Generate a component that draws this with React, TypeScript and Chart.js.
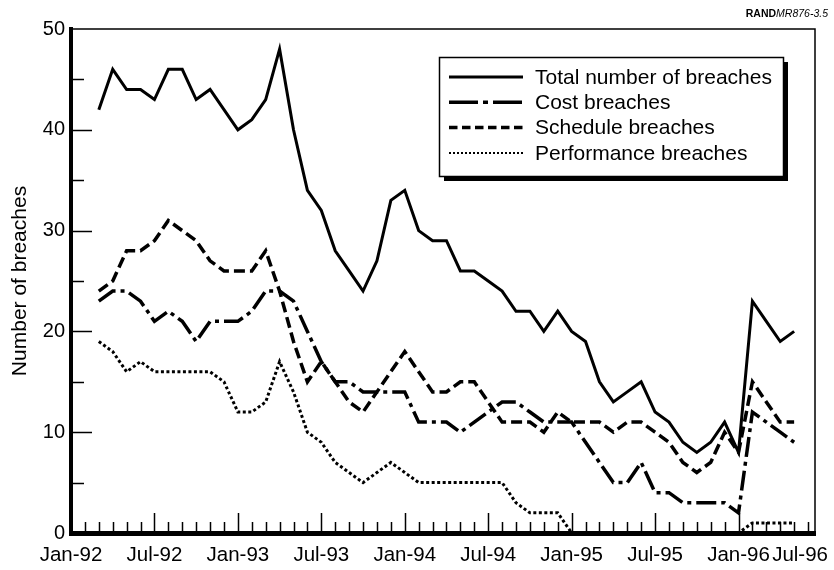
import React, { useEffect, useRef } from 'react';
import { Chart, registerables } from 'chart.js';

Chart.register(...registerables);

// Months counted from Jan-92 (= 0). First observation is Mar-92.
const START_MONTH = 2;
const tickMonths = [0, 6, 12, 18, 24, 30, 36, 42, 48, 54];
const tickLabels = ['Jan-92', 'Jul-92', 'Jan-93', 'Jul-93', 'Jan-94', 'Jul-94', 'Jan-95', 'Jul-95', 'Jan-96', 'Jul-96'];
const yTickValues = [0, 10, 20, 30, 40, 50];

const totalBreaches = [42, 46, 44, 44, 43, 46, 46, 43, 44, 42, 40, 41, 43, 48, 40, 34, 32, 28, 26, 24, 27, 33, 34, 30, 29, 29, 26, 26, 25, 24, 22, 22, 20, 22, 20, 19, 15, 13, 14, 15, 12, 11, 9, 8, 9, 11, 8, 23, 21, 19, 20];
const costBreaches = [23, 24, 24, 23, 21, 22, 21, 19, 21, 21, 21, 22, 24, 24, 23, 20, 17, 15, 15, 14, 14, 14, 14, 11, 11, 11, 10, 11, 12, 13, 13, 12, 11, 11, 11, 9, 7, 5, 5, 7, 4, 4, 3, 3, 3, 3, 2, 12, 11, 10, 9];
const scheduleBreaches = [24, 25, 28, 28, 29, 31, 30, 29, 27, 26, 26, 26, 28, 24, 19, 15, 17, 15, 13, 12, 14, 16, 18, 16, 14, 14, 15, 15, 13, 11, 11, 11, 10, 12, 11, 11, 11, 10, 11, 11, 10, 9, 7, 6, 7, 10, 8, 15, 13, 11, 11];
const performanceBreaches = [19, 18, 16, 17, 16, 16, 16, 16, 16, 15, 12, 12, 13, 17, 14, 10, 9, 7, 6, 5, 6, 7, 6, 5, 5, 5, 5, 5, 5, 5, 3, 2, 2, 2, 0, 0, 0, 0, 0, 0, 0, 0, 0, 0, 0, 0, 0, 1, 1, 1, 1];

const seriesLabels = ['Total number of breaches', 'Cost breaches', 'Schedule breaches', 'Performance breaches'];

const FONT = '"Liberation Sans", Arial, Helvetica, sans-serif';

const toXY = (values: number[]) => values.map((v, i) => ({ x: START_MONTH + i, y: v }));

const framePlugin = {
  id: 'frameAndTicks',
  afterDraw(chart: any) {
    const { ctx, chartArea, scales } = chart;
    const { left, right, top, bottom } = chartArea;
    const x = scales.x;
    const y = scales.y;
    ctx.save();
    ctx.strokeStyle = '#000';
    ctx.lineWidth = 1.5;
    ctx.beginPath();
    ctx.moveTo(left, top);
    ctx.lineTo(right, top);
    ctx.lineTo(right, bottom);
    ctx.stroke();
    ctx.beginPath();
    for (let m = 1; m <= 53; m++) {
      const px = Math.round(x.getPixelForValue(m)) + 0.5;
      const len = m % 6 === 0 ? 20 : 11;
      ctx.moveTo(px, bottom);
      ctx.lineTo(px, bottom - len);
    }
    for (let v = 5; v <= 45; v += 5) {
      const py = Math.round(y.getPixelForValue(v)) + 0.5;
      const len = v % 10 === 0 ? 21 : 13;
      ctx.moveTo(left, py);
      ctx.lineTo(left + len, py);
    }
    ctx.stroke();

    ctx.fillStyle = '#000';
    ctx.font = `20.5px ${FONT}`;
    ctx.textBaseline = 'alphabetic';
    ctx.textAlign = 'left';
    tickMonths.forEach((m, i) => {
      const label = tickLabels[i];
      const w = ctx.measureText(label).width;
      let lx = x.getPixelForValue(m) - w / 2;
      if (lx + w > chart.width - 6) lx = chart.width - 6 - w;
      if (lx < 2) lx = 2;
      ctx.fillText(label, lx, 561);
    });

    ctx.font = `italic 10.5px ${FONT}`;
    const rest = 'MR876-3.5';
    const wRest = ctx.measureText(rest).width;
    ctx.font = `bold 10.5px ${FONT}`;
    const head = 'RAND';
    const wHead = ctx.measureText(head).width;
    const hx = 828 - wRest - wHead;
    ctx.fillText(head, hx, 17);
    ctx.font = `italic 10.5px ${FONT}`;
    ctx.fillText(rest, hx + wHead, 17);
    ctx.restore();
  },
};

const legendPlugin = {
  id: 'boxLegend',
  afterDraw(chart: any) {
    const { ctx } = chart;
    const bx = 439, by = 57, bw = 344, bh = 119;
    ctx.save();
    ctx.fillStyle = '#000';
    ctx.fillRect(bx + 5, by + 5, bw, bh);
    ctx.fillStyle = '#fff';
    ctx.fillRect(bx, by, bw, bh);
    ctx.strokeStyle = '#000';
    ctx.lineWidth = 1.5;
    ctx.strokeRect(bx + 0.5, by + 0.5, bw, bh);
    chart.data.datasets.forEach((ds: any, i: number) => {
      const ly = 77 + 25.3 * i;
      ctx.beginPath();
      ctx.setLineDash(ds.legendDash || []);
      ctx.lineWidth = ds.legendWidth || 3;
      ctx.lineCap = 'butt';
      ctx.moveTo(449, ly);
      ctx.lineTo(523, ly);
      ctx.stroke();
      ctx.setLineDash([]);
      ctx.fillStyle = '#000';
      ctx.font = `21px ${FONT}`;
      ctx.textBaseline = 'middle';
      ctx.textAlign = 'left';
      ctx.fillText(ds.label, 535, ly + 1);
    });
    ctx.restore();
  },
};

export default function App() {
  const canvasRef = useRef<HTMLCanvasElement | null>(null);

  useEffect(() => {
    if (!canvasRef.current) return;
    const chart = new Chart(canvasRef.current, {
      type: 'line',
      data: {
        datasets: [
          {
            label: seriesLabels[0],
            data: toXY(totalBreaches),
            borderColor: '#000',
            borderWidth: 3,
            borderDash: [],
            legendDash: [],
            legendWidth: 3,
          } as any,
          {
            label: seriesLabels[1],
            data: toXY(costBreaches),
            borderColor: '#000',
            borderWidth: 3.5,
            borderDash: [20, 5, 4, 5],
            legendDash: [29, 5, 5, 5],
            legendWidth: 3.5,
          },
          {
            label: seriesLabels[2],
            data: toXY(scheduleBreaches),
            borderColor: '#000',
            borderWidth: 3.5,
            borderDash: [11, 5],
            legendDash: [8.5, 4.5],
            legendWidth: 3.5,
          },
          {
            label: seriesLabels[3],
            data: toXY(performanceBreaches),
            borderColor: '#000',
            borderWidth: 3,
            borderDash: [3, 2.5],
            legendDash: [2, 2],
            legendWidth: 2,
          },
        ],
      },
      options: {
        responsive: false,
        animation: false,
        devicePixelRatio: 1,
        layout: { padding: { left: 0, top: 29, right: 19, bottom: 0 } },
        elements: {
          point: { radius: 0 },
          line: { tension: 0, borderCapStyle: 'butt', borderJoinStyle: 'miter', fill: false },
        },
        plugins: {
          legend: { display: false },
          tooltip: { enabled: false },
        },
        scales: {
          x: {
            type: 'linear',
            min: 0,
            max: 53.5,
            grid: { display: false, drawTicks: false },
            border: { display: true, width: 5, color: '#000' },
            ticks: { display: false },
            afterFit: (s: any) => {
              s.height = 37;
            },
          },
          y: {
            type: 'linear',
            min: 0,
            max: 50,
            afterBuildTicks: (s: any) => {
              s.ticks = yTickValues.map((v) => ({ value: v }));
            },
            ticks: {
              color: '#000',
              font: { size: 20, family: FONT },
              padding: 6,
            },
            grid: { display: false, drawTicks: false },
            border: { display: true, width: 4, color: '#000' },
            title: {
              display: true,
              text: 'Number of breaches',
              color: '#000',
              font: { size: 21, family: FONT },
              padding: { top: 8, bottom: 0 },
            },
            afterFit: (s: any) => {
              s.width = 71;
            },
          },
        },
      } as any,
      plugins: [framePlugin, legendPlugin],
    });
    return () => chart.destroy();
  }, []);

  return (
    <div style={{ position: 'fixed', left: 0, top: 0, width: 834, height: 570, background: '#fff' }}>
      <canvas ref={canvasRef} width={834} height={570} style={{ display: 'block' }} />
    </div>
  );
}
